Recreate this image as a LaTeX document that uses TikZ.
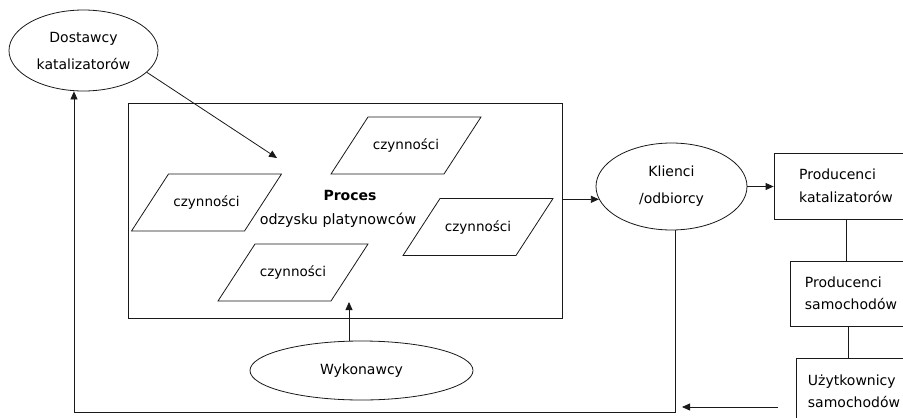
\documentclass[tikz,border=0pt]{standalone}
\usepackage{fontspec}
\setmainfont{DejaVu Sans}
\usetikzlibrary{shapes.geometric,arrows.meta,calc}
\newcommand{\czbox}[2]{%
  \node[ptext] (#1) at #2 {czynności};
  \draw[line] ($(#1.center)+(-75,28.5)$) -- ++(113,0) -- ++(37,-57) -- ++(-113,0) -- cycle;}
\begin{document}
\begin{tikzpicture}[x=1pt,y=-1pt,
  line/.style={draw=black!90, line width=0.8pt},
  arr/.style={line, -{Triangle[length=8pt,width=7pt]}},
  txt/.style={font=\fontsize{14}{27}\selectfont, align=center, inner sep=0pt},
  oval/.style={ellipse, line, txt},
  box/.style={rectangle, line, inner sep=0pt, font=\fontsize{14}{22.5}\selectfont, align=left},
  ptext/.style={font=\fontsize{13.5}{16}\selectfont, inner sep=0pt}]
\clip (0,0) rectangle (903,418);
\fill[white] (0,0) rectangle (903,418);
% nodes
\node[oval, minimum width=149pt, minimum height=81pt] (dost) at (83.5,50.5) {Dostawcy\\katalizatorów};
\node[rectangle, line, minimum width=434pt, minimum height=215pt] (proc) at (345,210.5) {};
\node[oval, minimum width=151pt, minimum height=87pt] (klient) at (671.5,186.5) {Klienci\\/odbiorcy};
\node[oval, minimum width=223pt, minimum height=59pt] (wyk) at (361.5,370.5) {Wykonawcy};
\node[box, minimum width=144pt, minimum height=66pt] (pk) at (846,186) {Producenci\\katalizatorów};
\node[box, minimum width=122pt, minimum height=65pt] (ps) at (851,293.5) {Producenci\\samochodów};
\node[box, minimum width=116pt, minimum height=67pt] (uz) at (854,391.5) {Użytkownicy\\samochodów};
% process text
\node[ptext, font=\fontsize{14}{16}\selectfont] (proct) at (350,195) {\textbf{Proces}};
\node[ptext, font=\fontsize{14.3}{16}\selectfont] (procs) at (338,220) {odzysku platynowców};
% activities
\czbox{c1}{(406,145.5)}
\czbox{c2}{(206.5,202.5)}
\czbox{c3}{(478,227)}
\czbox{c4}{(293,272.5)}
% coordinates
\coordinate (a1) at (277,158);
\coordinate (w1) at (349,302);
\coordinate (bl) at (74,412);
\coordinate (br) at (675,412);
\coordinate (u1) at (778,407);
\coordinate (u2) at (682,407);
% connectors
\draw[arr] (dost.-19) -- (a1);
\draw[arr] (klient.190 -| proc.east) -- (klient.190);
\draw[arr] (klient.east) -- (klient.east -| pk.west);
\draw[line] (pk.south -| 846,0) -- (ps.north -| 846,0);
\draw[line] (ps.south -| 848,0) -- (uz.north -| 848,0);
\draw[arr] (w1 |- wyk.north) -- (w1);
\draw[arr] (br |- klient.south) -- (br) -- (bl) -- (bl |- dost.south);
\draw[arr] (u1) -- (u2);
\end{tikzpicture}
\end{document}
